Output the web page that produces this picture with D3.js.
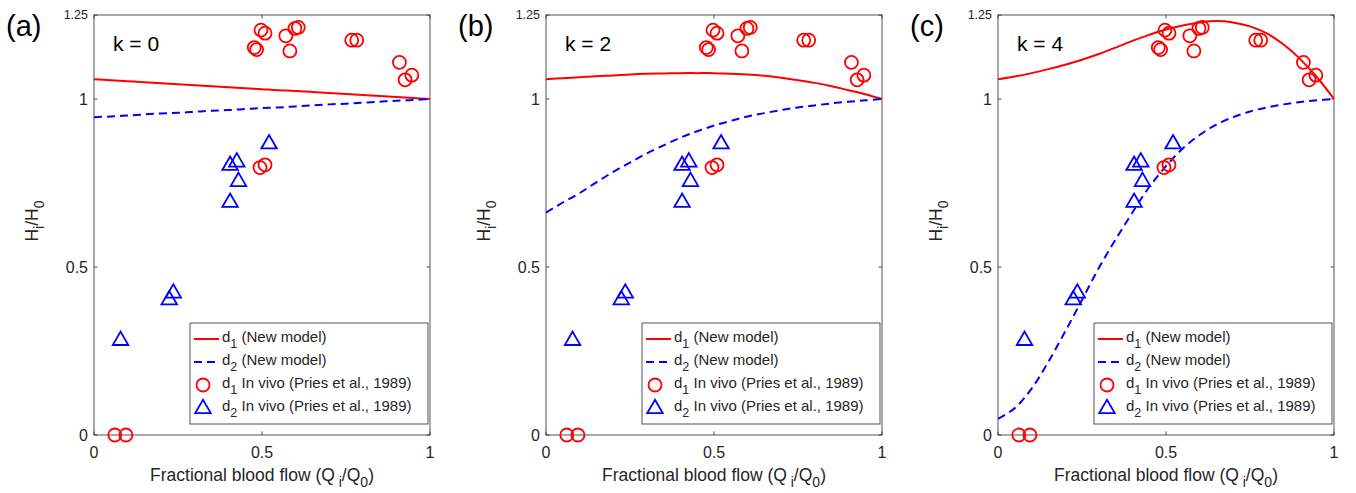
<!DOCTYPE html>
<html>
<head>
<meta charset="utf-8">
<script src="https://cdn.jsdelivr.net/npm/d3@7"></script>
<style>
  html, body { margin: 0; padding: 0; background: #fff; }
  svg { display: block; font-family: "Liberation Sans", Arial, Helvetica, sans-serif; }
</style>
</head>
<body>
<svg id="chart" width="1356" height="493"></svg>
<script>
// ---------- data ----------
const panelLabels = ["(a)", "(b)", "(c)"];
const kLabels = ["k = 0", "k = 2", "k = 4"];

const xTicks = [0, 0.5, 1];
const xTickLabels = ["0", "0.5", "1"];
const yTicks = [0, 0.5, 1, 1.25];
const yTickLabels = ["0", "0.5", "1", "1.25"];

// in vivo data (Pries et al., 1989)
const d1VivoX = [0.062, 0.095, 0.477, 0.484, 0.497, 0.509, 0.494, 0.509, 0.571, 0.583, 0.598, 0.608, 0.767, 0.782, 0.909, 0.926, 0.946];
const d1VivoY = [0, 0, 1.153, 1.147, 1.205, 1.196, 0.796, 0.804, 1.188, 1.143, 1.210, 1.213, 1.175, 1.175, 1.109, 1.057, 1.071];
const d2VivoX = [0.079, 0.224, 0.236, 0.405, 0.405, 0.425, 0.430, 0.521];
const d2VivoY = [0.283, 0.404, 0.424, 0.694, 0.804, 0.814, 0.756, 0.868];

// new model curves
const modelX = [0, 0.05, 0.1, 0.15, 0.2, 0.25, 0.3, 0.35, 0.4, 0.45, 0.5, 0.55, 0.6, 0.65, 0.7, 0.75, 0.8, 0.85, 0.9, 0.95, 1];
const d1ModelK0 = [1.059, 1.056, 1.053, 1.050, 1.047, 1.044, 1.041, 1.038, 1.035, 1.032, 1.029, 1.026, 1.024, 1.021, 1.018, 1.015, 1.012, 1.009, 1.006, 1.003, 1.0];
const d2ModelK0 = [0.946, 0.948, 0.951, 0.954, 0.957, 0.959, 0.962, 0.965, 0.967, 0.970, 0.973, 0.975, 0.978, 0.981, 0.984, 0.986, 0.989, 0.992, 0.995, 0.997, 1.0];
const d1ModelK2 = [1.059, 1.062, 1.065, 1.068, 1.070, 1.073, 1.075, 1.076, 1.077, 1.077, 1.077, 1.075, 1.073, 1.069, 1.063, 1.056, 1.048, 1.038, 1.026, 1.014, 1.0];
const d2ModelK2 = [0.662, 0.692, 0.720, 0.752, 0.783, 0.811, 0.838, 0.862, 0.885, 0.904, 0.921, 0.935, 0.948, 0.958, 0.967, 0.975, 0.981, 0.987, 0.992, 0.996, 1.0];
const d1ModelK4 = [1.059, 1.067, 1.077, 1.089, 1.102, 1.117, 1.134, 1.153, 1.173, 1.191, 1.207, 1.219, 1.228, 1.232, 1.228, 1.216, 1.195, 1.162, 1.118, 1.064, 1.0];
const d2ModelK4 = [0.048, 0.080, 0.138, 0.218, 0.308, 0.402, 0.497, 0.582, 0.662, 0.738, 0.800, 0.853, 0.893, 0.924, 0.946, 0.963, 0.975, 0.984, 0.991, 0.996, 1.0];

const d1Models = [d1ModelK0, d1ModelK2, d1ModelK4];
const d2Models = [d2ModelK0, d2ModelK2, d2ModelK4];

const legendLabels = [
  ["d", "1", " (New model)"],
  ["d", "2", " (New model)"],
  ["d", "1", " In vivo (Pries et al., 1989)"],
  ["d", "2", " In vivo (Pries et al., 1989)"]
];

// ---------- layout ----------
const RED = "#ff0000", BLUE = "#0000ff", AX = "#262626";
const panelLeft = [94, 546, 998];
const plotW = 336, plotTop = 15, plotH = 420;

const svg = d3.select("#chart");

function triPath(cx, cy, s) {
  const h = s * 0.866;
  return `M${cx},${cy - h * 0.62}L${cx + s / 2},${cy + h * 0.38}L${cx - s / 2},${cy + h * 0.38}Z`;
}

panelLeft.forEach((left, pi) => {
  const x = d3.scaleLinear().domain([0, 1]).range([left, left + plotW]);
  const y = d3.scaleLinear().domain([0, 1.25]).range([plotTop + plotH, plotTop]);
  const g = svg.append("g");

  // axes box
  g.append("rect").attr("x", left).attr("y", plotTop).attr("width", plotW).attr("height", plotH)
    .attr("fill", "none").attr("stroke", AX).attr("stroke-width", 0.8);

  // x ticks (bottom + top, inward)
  const tl = 3.5;
  xTicks.forEach((t, i) => {
    g.append("line").attr("x1", x(t)).attr("x2", x(t)).attr("y1", plotTop + plotH).attr("y2", plotTop + plotH - tl).attr("stroke", AX).attr("stroke-width", 0.8);
    g.append("line").attr("x1", x(t)).attr("x2", x(t)).attr("y1", plotTop).attr("y2", plotTop + tl).attr("stroke", AX).attr("stroke-width", 0.8);
    g.append("text").attr("x", x(t)).attr("y", plotTop + plotH + 23).attr("text-anchor", "middle")
      .attr("font-size", 16).attr("fill", AX).text(xTickLabels[i]);
  });
  // y ticks
  yTicks.forEach((t, i) => {
    g.append("line").attr("x1", left).attr("x2", left + tl).attr("y1", y(t)).attr("y2", y(t)).attr("stroke", AX).attr("stroke-width", 0.8);
    g.append("line").attr("x1", left + plotW).attr("x2", left + plotW - tl).attr("y1", y(t)).attr("y2", y(t)).attr("stroke", AX).attr("stroke-width", 0.8);
    const small = yTickLabels[i] === "1.25";
    g.append("text").attr("x", left - 6).attr("y", y(t) + (small ? 4 : 6)).attr("text-anchor", "end")
      .attr("font-size", small ? 12.5 : 16).attr("fill", AX).text(yTickLabels[i]);
  });

  // x label
  const xl = g.append("text").attr("x", left + plotW / 2).attr("y", 481).attr("text-anchor", "middle")
    .attr("font-size", 17.5).attr("fill", AX);
  xl.append("tspan").text("Fractional blood flow (Q");
  xl.append("tspan").attr("font-size", 14).attr("dy", 6).text(" i");
  xl.append("tspan").attr("dy", -6).text("/Q");
  xl.append("tspan").attr("font-size", 14).attr("dy", 6).text("0");
  xl.append("tspan").attr("dy", -6).text(")");

  // y label
  const yl = g.append("text").attr("transform", `translate(${left - 56},${plotTop + plotH / 2 - 4}) rotate(-90)`)
    .attr("text-anchor", "middle").attr("font-size", 17.5).attr("fill", AX);
  yl.append("tspan").text("H");
  yl.append("tspan").attr("font-size", 14).attr("dy", 6).text("i");
  yl.append("tspan").attr("dy", -6).text("/H");
  yl.append("tspan").attr("font-size", 14).attr("dy", 6).text("0");

  // panel label
  g.append("text").attr("x", left - 88).attr("y", 36).attr("font-size", 29).attr("fill", "#000").text(panelLabels[pi]);
  // k label
  g.append("text").attr("x", left + 19).attr("y", 51).attr("font-size", 21).attr("fill", "#000").text(kLabels[pi]);

  // clip
  const clipId = "clip" + pi;
  svg.append("clipPath").attr("id", clipId).append("rect")
    .attr("x", left).attr("y", plotTop).attr("width", plotW).attr("height", plotH);

  const line = d3.line().x(d => x(d[0])).y(d => y(d[1])).curve(d3.curveCatmullRom.alpha(0.5));
  g.append("path").datum(modelX.map((v, i) => [v, d1Models[pi][i]]))
    .attr("d", line).attr("fill", "none").attr("stroke", RED).attr("stroke-width", 2)
    .attr("clip-path", `url(#${clipId})`);
  g.append("path").datum(modelX.map((v, i) => [v, d2Models[pi][i]]))
    .attr("d", line).attr("fill", "none").attr("stroke", BLUE).attr("stroke-width", 2)
    .attr("stroke-dasharray", "8,5").attr("clip-path", `url(#${clipId})`);

  // in vivo markers
  d1VivoX.forEach((v, i) => {
    g.append("circle").attr("cx", x(v)).attr("cy", y(d1VivoY[i])).attr("r", 6.5)
      .attr("fill", "none").attr("stroke", RED).attr("stroke-width", 1.8);
  });
  d2VivoX.forEach((v, i) => {
    g.append("path").attr("d", triPath(x(v), y(d2VivoY[i]), 15.5))
      .attr("fill", "none").attr("stroke", BLUE).attr("stroke-width", 1.8).attr("stroke-linejoin", "miter");
  });

  // legend
  const lx = left + 96, ly = 323, lw = 238, lh = 101;
  const lg = g.append("g");
  lg.append("rect").attr("x", lx).attr("y", ly).attr("width", lw).attr("height", lh)
    .attr("fill", "#fff").attr("stroke", AX).attr("stroke-width", 0.8);
  const rowY = [339, 362, 385, 408];
  legendLabels.forEach((lab, i) => {
    const cy = rowY[i];
    if (i === 0) {
      lg.append("line").attr("x1", lx + 4).attr("x2", lx + 29).attr("y1", cy).attr("y2", cy).attr("stroke", RED).attr("stroke-width", 2);
    } else if (i === 1) {
      lg.append("line").attr("x1", lx + 4).attr("x2", lx + 29).attr("y1", cy).attr("y2", cy).attr("stroke", BLUE).attr("stroke-width", 2).attr("stroke-dasharray", "8,5");
    } else if (i === 2) {
      lg.append("circle").attr("cx", lx + 13).attr("cy", cy).attr("r", 6.5).attr("fill", "none").attr("stroke", RED).attr("stroke-width", 1.8);
    } else {
      lg.append("path").attr("d", triPath(lx + 13, cy, 15.5)).attr("fill", "none").attr("stroke", BLUE).attr("stroke-width", 1.8);
    }
    const t = lg.append("text").attr("x", lx + 32).attr("y", cy + 3).attr("font-size", 15).attr("fill", AX);
    t.append("tspan").text(lab[0]);
    t.append("tspan").attr("font-size", 12.5).attr("dy", 6).text(lab[1]);
    t.append("tspan").attr("dy", -6).text(lab[2]);
  });
});
</script>
</body>
</html>
